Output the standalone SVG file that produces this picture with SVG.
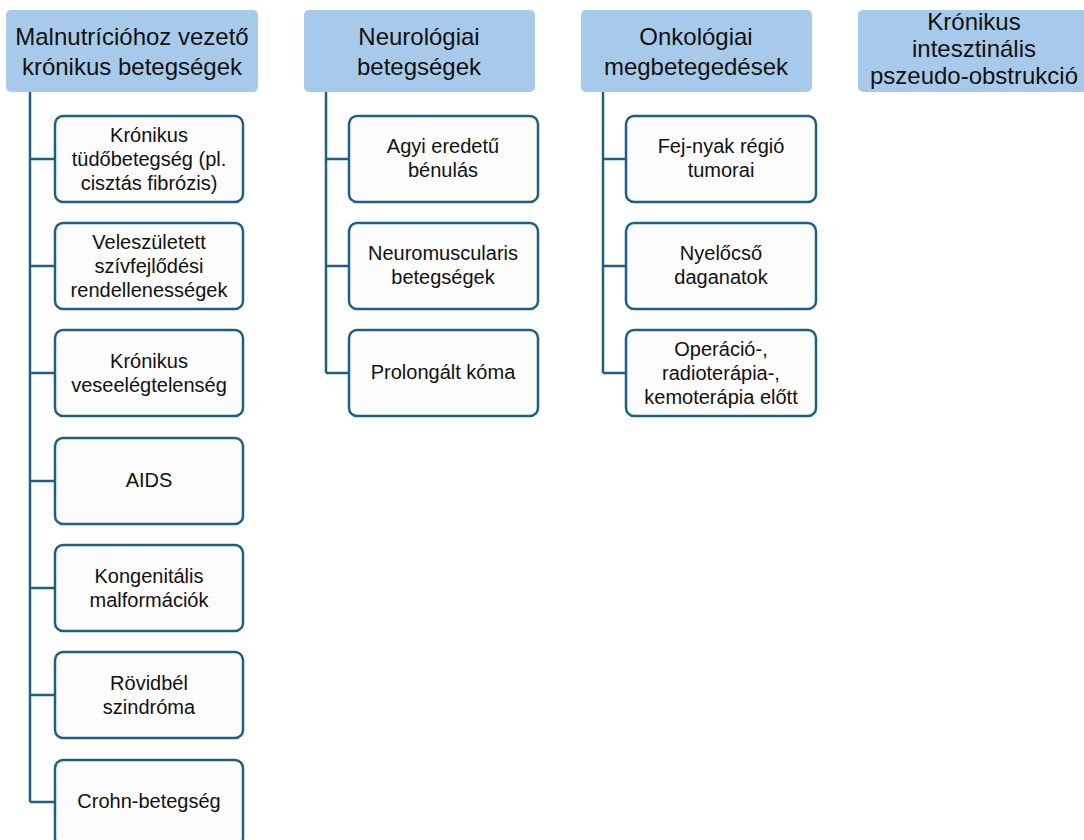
<svg xmlns="http://www.w3.org/2000/svg" width="1084" height="840" viewBox="0 0 1084 840">
  <style>
    .head rect { fill: #a7caeb; }
    .item rect { fill: #fcfcfc; stroke: #1e6085; stroke-width: 2.5; }
    .head text { font-family: "Liberation Sans", Arial, sans-serif; font-size: 24px; fill: #111; text-anchor: middle; }
    .item text { font-family: "Liberation Sans", Arial, sans-serif; font-size: 20px; fill: #111; text-anchor: middle; }
    #connectors path { fill: none; stroke: #1e6085; stroke-width: 2.5; }
  </style>
  <rect width="1084" height="840" fill="#ffffff"/>

  <!-- tree connectors -->
  <g id="connectors">
    <path d="M30 92 V802 M30 159 H55 M30 266 H55 M30 373 H55 M30 481 H55 M30 588 H55 M30 695 H55 M30 802 H55"/>
    <path d="M326 92 V373 M326 159 H349 M326 266 H349 M326 373 H349"/>
    <path d="M603 92 V373 M603 159 H626 M603 266 H626 M603 373 H626"/>
  </g>

  <!-- column headers -->
  <g id="h1" class="head">
    <rect x="6" y="10" width="252" height="82" rx="5"/>
    <text x="132" y="45">Malnutrícióhoz vezető<tspan x="132" dy="30">krónikus betegségek</tspan></text>
  </g>
  <g id="h2" class="head">
    <rect x="304" y="10" width="231" height="82" rx="5"/>
    <text x="419" y="45">Neurológiai<tspan x="419" dy="30">betegségek</tspan></text>
  </g>
  <g id="h3" class="head">
    <rect x="581" y="10" width="231" height="82" rx="5"/>
    <text x="696" y="45">Onkológiai<tspan x="696" dy="30">megbetegedések</tspan></text>
  </g>
  <g id="h4" class="head">
    <rect x="858" y="10" width="231" height="82" rx="5"/>
    <text x="974" y="30">Krónikus<tspan x="974" dy="27">intesztinális</tspan><tspan x="974" dy="27">pszeudo-obstrukció</tspan></text>
  </g>

  <!-- column 1 items -->
  <g id="c1-1" class="item">
    <rect x="55" y="116" width="188" height="86" rx="8"/>
    <text x="149" y="142">Krónikus<tspan x="149" dy="24">tüdőbetegség (pl.</tspan><tspan x="149" dy="24">cisztás fibrózis)</tspan></text>
  </g>
  <g id="c1-2" class="item">
    <rect x="55" y="223" width="188" height="86" rx="8"/>
    <text x="149" y="249">Veleszületett<tspan x="149" dy="24">szívfejlődési</tspan><tspan x="149" dy="24">rendellenességek</tspan></text>
  </g>
  <g id="c1-3" class="item">
    <rect x="55" y="330" width="188" height="86" rx="8"/>
    <text x="149" y="368">Krónikus<tspan x="149" dy="24">veseelégtelenség</tspan></text>
  </g>
  <g id="c1-4" class="item">
    <rect x="55" y="438" width="188" height="86" rx="8"/>
    <text x="149" y="487">AIDS</text>
  </g>
  <g id="c1-5" class="item">
    <rect x="55" y="545" width="188" height="86" rx="8"/>
    <text x="149" y="583">Kongenitális<tspan x="149" dy="24">malformációk</tspan></text>
  </g>
  <g id="c1-6" class="item">
    <rect x="55" y="652" width="188" height="86" rx="8"/>
    <text x="149" y="690">Rövidbél<tspan x="149" dy="24">szindróma</tspan></text>
  </g>
  <g id="c1-7" class="item">
    <rect x="55" y="760" width="188" height="86" rx="8"/>
    <text x="149" y="808">Crohn-betegség</text>
  </g>

  <!-- column 2 items -->
  <g id="c2-1" class="item">
    <rect x="349" y="116" width="189" height="86" rx="8"/>
    <text x="443" y="153">Agyi eredetű<tspan x="443" dy="24">bénulás</tspan></text>
  </g>
  <g id="c2-2" class="item">
    <rect x="349" y="223" width="189" height="86" rx="8"/>
    <text x="443" y="260">Neuromuscularis<tspan x="443" dy="24">betegségek</tspan></text>
  </g>
  <g id="c2-3" class="item">
    <rect x="349" y="330" width="189" height="86" rx="8"/>
    <text x="443" y="379">Prolongált kóma</text>
  </g>

  <!-- column 3 items -->
  <g id="c3-1" class="item">
    <rect x="626" y="116" width="190" height="86" rx="8"/>
    <text x="721" y="153">Fej-nyak régió<tspan x="721" dy="24">tumorai</tspan></text>
  </g>
  <g id="c3-2" class="item">
    <rect x="626" y="223" width="190" height="86" rx="8"/>
    <text x="721" y="260">Nyelőcső<tspan x="721" dy="24">daganatok</tspan></text>
  </g>
  <g id="c3-3" class="item">
    <rect x="626" y="330" width="190" height="86" rx="8"/>
    <text x="721" y="356">Operáció-,<tspan x="721" dy="24">radioterápia-,</tspan><tspan x="721" dy="24">kemoterápia előtt</tspan></text>
  </g>
</svg>
